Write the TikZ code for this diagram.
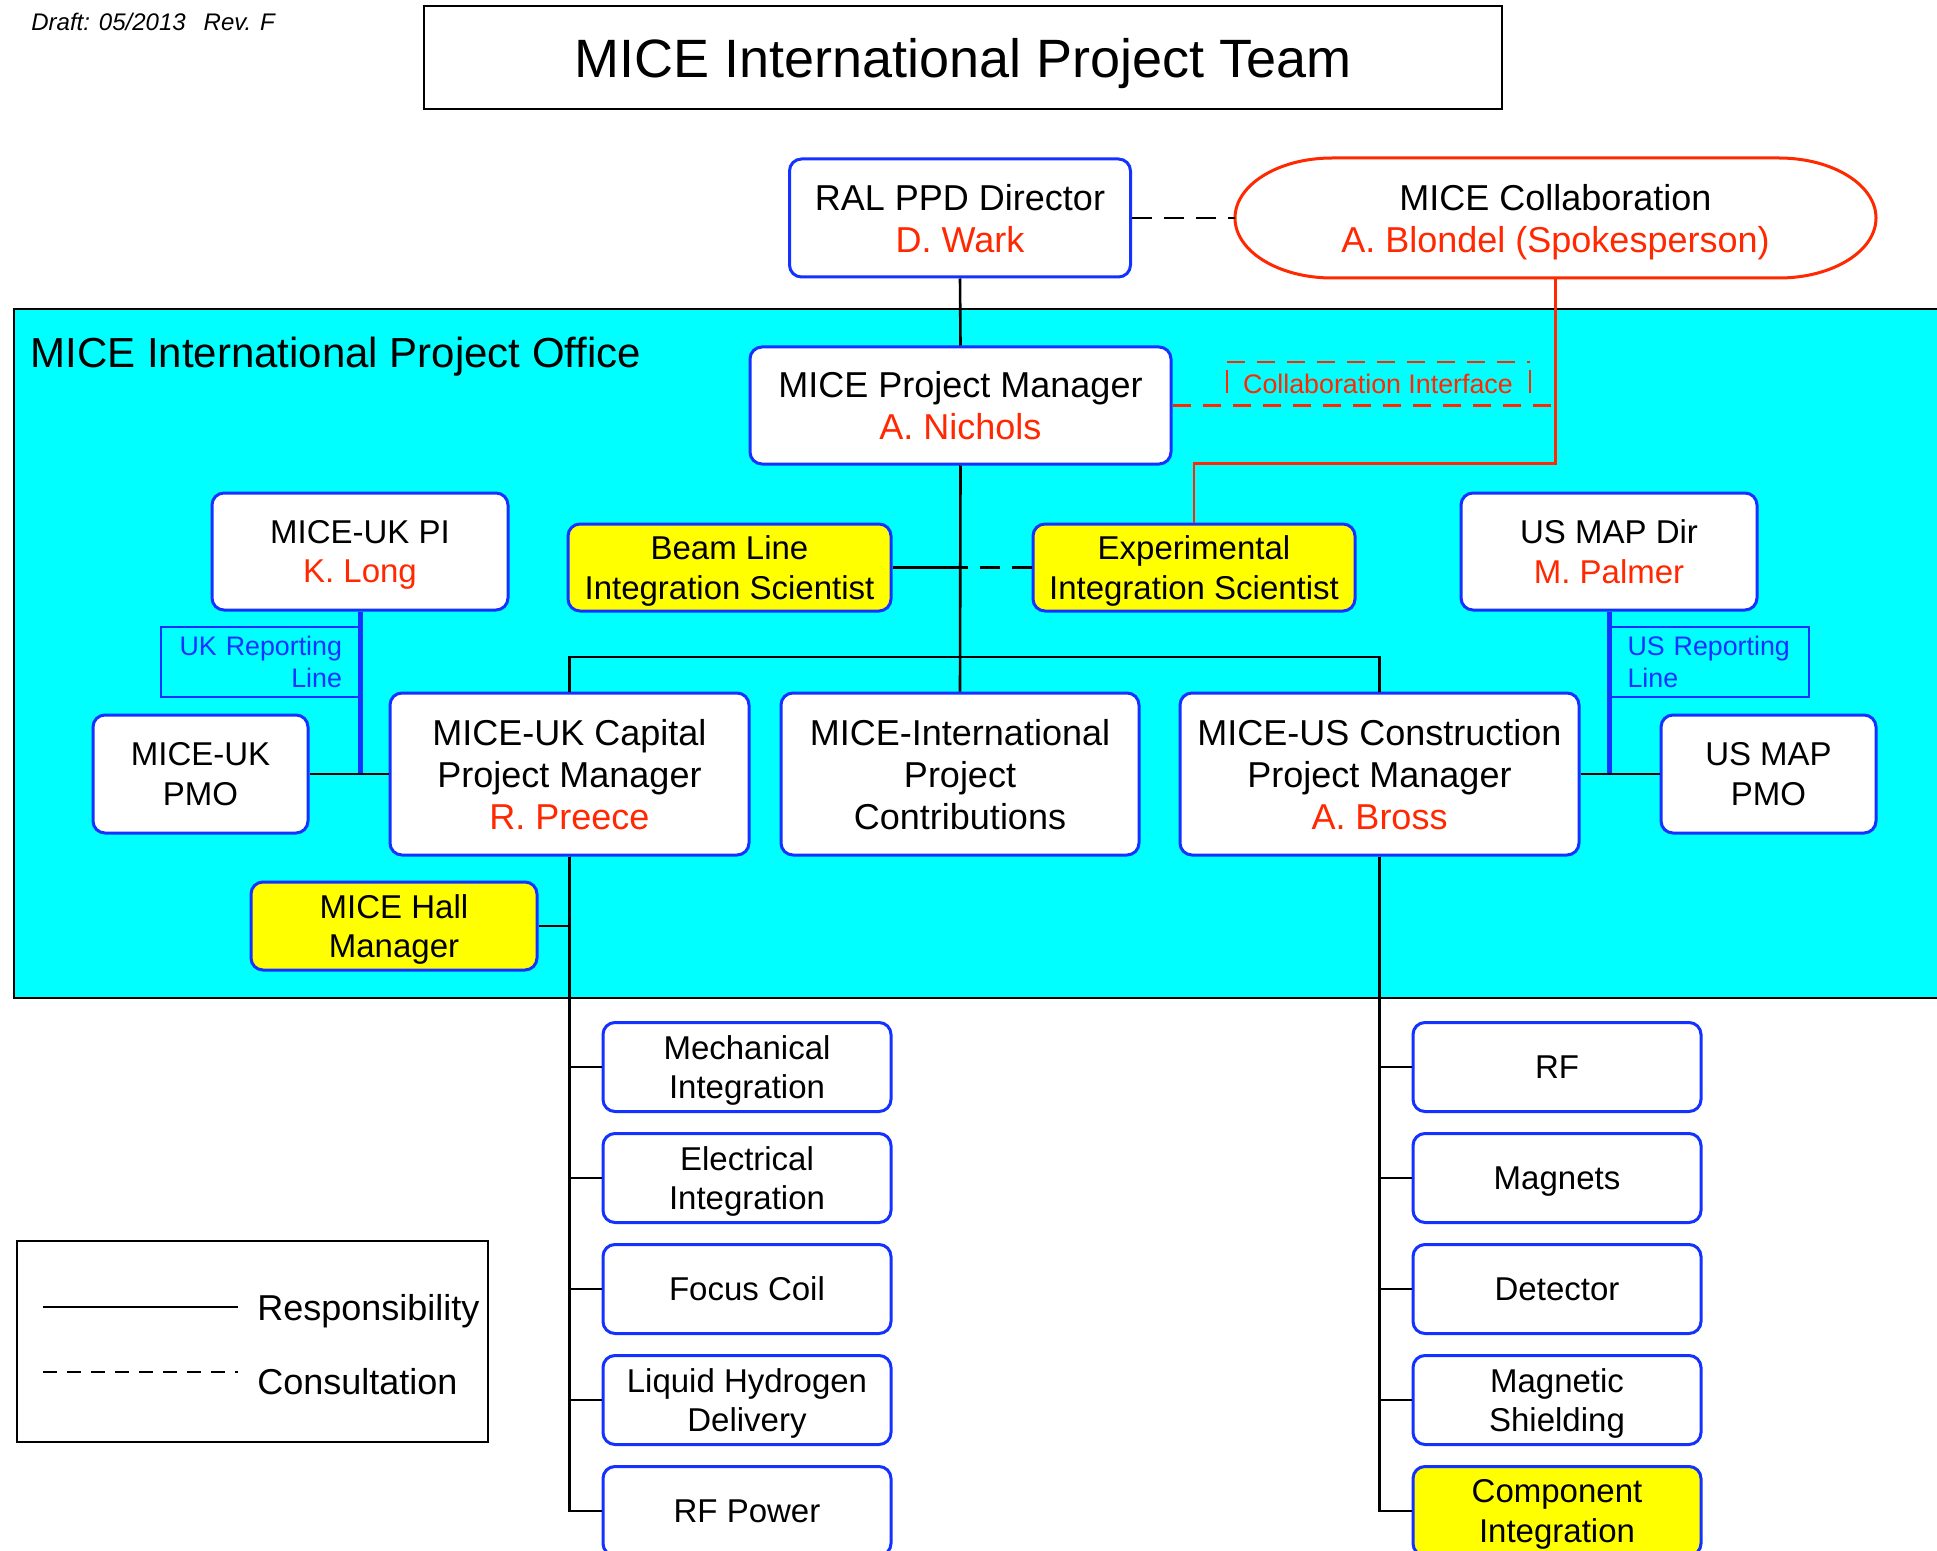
\documentclass[tikz,border=0pt]{standalone}
\usepackage{fontspec}
\setmainfont{Liberation Sans}
\usepackage{tikz}
\usetikzlibrary{calc}
\definecolor{miceblue}{RGB}{20,50,255}
\definecolor{micered}{RGB}{255,40,0}
\definecolor{micecyan}{RGB}{0,255,255}
\definecolor{miceyellow}{RGB}{255,255,0}
\tikzstyle{box}=[rectangle, rounded corners=6pt, draw=miceblue, line width=1.5pt, fill=white, align=center, inner sep=0pt, text depth=0pt, font=\fontsize{18}{21}\selectfont]
\tikzstyle{small}=[font=\fontsize{16.5}{19.8}\selectfont]
\tikzstyle{link}=[black, line width=1.3pt]
\pgfdeclarelayer{bg}
\pgfsetlayers{bg,main}
\newcommand{\who}[1]{\textcolor{micered}{#1}}

\begin{document}
\begin{tikzpicture}[x=0.5pt, y=-0.5pt,
    hl/.style={box, small, fill=miceyellow},
    sub/.style={box, small, minimum width=144pt, minimum height=44.5pt},
    pmo/.style={box, small, minimum width=107.5pt, minimum height=59pt},
    repline/.style={draw=miceblue, line width=1pt, text=miceblue, text width=81.5pt, inner xsep=9pt, inner ysep=0pt, minimum height=35pt, font=\fontsize{13.4}{16}\selectfont},
    consult/.style={link, dash pattern=on 10pt off 6pt}]
  \useasboundingbox (0,0) rectangle (1937,1551);
  \clip (0,0) rectangle (1937,1551);
  \begin{pgfonlayer}{bg}
    \fill[white] (0,0) rectangle (1937,1551);
    \draw[line width=1.2pt, fill=micecyan] (14,309) rectangle (1960,998);
    \draw[micered, line width=1.5pt, fill=white] (1332,158) -- (1779,158)
      arc[start angle=90, end angle=-90, x radius=48.5pt, y radius=30pt] -- (1332,278)
      arc[start angle=270, end angle=90, x radius=48.5pt, y radius=30pt] -- cycle;
  \end{pgfonlayer}

  \node[anchor=west, inner sep=0pt, font=\itshape\fontsize{12}{14}\selectfont] (draft) at (31,22) {Draft: 05/2013\hspace{9pt}Rev. F};
  \node[draw, line width=1.2pt, minimum width=539pt, minimum height=51.5pt, inner sep=0pt, text depth=0pt, font=\fontsize{27}{30}\selectfont] (title) at (963,57.5) {MICE International Project Team};
  \node[anchor=west, inner sep=0pt, text depth=0pt, font=\fontsize{21}{25}\selectfont] (office) at (30,352) {MICE International Project Office};

  \node[box, minimum width=170.5pt, minimum height=59pt] (ral) at (960,218) {RAL PPD Director\\\who{D. Wark}};
  \node[align=center, inner sep=0pt, text depth=0pt, minimum width=320.5pt, minimum height=60pt, font=\fontsize{18}{21}\selectfont] (collab) at (1555.5,218) {MICE Collaboration\\\who{A. Blondel (Spokesperson)}};
  \node[box, minimum width=210.5pt, minimum height=58.5pt] (pm) at (960.5,405.5) {MICE Project Manager\\\who{A. Nichols}};
  \node[text=micered, inner sep=0pt, font=\fontsize{13.4}{16}\selectfont] (ci) at (1378,384) {Collaboration Interface};

  \node[box, small, minimum width=148pt, minimum height=58.5pt] (ukpi) at (360,551.5) {MICE-UK PI\\\who{K. Long}};
  \node[hl, minimum width=161.5pt, minimum height=43.5pt] (beam) at (729.5,567.5) {Beam Line\\Integration Scientist};
  \node[hl, minimum width=161pt, minimum height=43.5pt] (exp) at (1194,567.5) {Experimental\\Integration Scientist};
  \node[box, small, minimum width=148pt, minimum height=58.5pt] (usdir) at (1609,551.5) {US MAP Dir\\\who{M. Palmer}};

  \node[repline, align=right] (ukrep) at (260.5,662) {UK Reporting\\Line};
  \node[repline, align=left] (usrep) at (1709,662) {US Reporting\\Line};

  \node[box, minimum width=179.5pt, minimum height=81pt] (ukcap) at (569.5,774) {MICE-UK Capital\\Project Manager\\\who{R. Preece}};
  \node[box, minimum width=179pt, minimum height=81pt] (contrib) at (960,774) {MICE-International\\Project\\Contributions};
  \node[box, minimum width=199.5pt, minimum height=81pt] (uscons) at (1379.5,774) {MICE-US Construction\\Project Manager\\\who{A. Bross}};
  \node[pmo] (ukpmo) at (200.5,774) {MICE-UK\\PMO};
  \node[pmo] (uspmo) at (1768.5,774) {US MAP\\PMO};
  \node[hl, minimum width=143pt, minimum height=44pt] (hall) at (394,926) {MICE Hall\\Manager};

  \draw[consult] (ral.east) -- (collab.west);
  \draw[link] (ral.south) -- (pm.north);
  \draw[link] (pm.south) -- (contrib.north);
  \coordinate (bar) at (960,657);
  \draw[link] (ukcap.north) |- (bar) -| (uscons.north);
  \draw[link] (beam.east) -- (beam.east -| pm.south);
  \draw[consult] (exp.west) -- (exp.west -| pm.south);
  \draw[micered, line width=1.3pt] (collab.south) -- ++(0,185) -| (exp.north);
  \draw[micered, line width=1.3pt, dash pattern=on 9pt off 6pt] (pm.east) -- (pm.east -| collab.south);
  \draw[micered, line width=1.3pt, dash pattern=on 9pt off 6pt] (1227,362) -- (1530,362);
  \draw[micered, line width=1.3pt] (1227,370) -- (1227,393) (1530,370) -- (1530,393);

  \draw[miceblue, line width=2.5pt] (ukpi.south) -- (ukpi.south |- ukcap.west);
  \draw[link] (ukpmo.east) -- (ukcap.west);
  \draw[miceblue, line width=2.5pt] (usdir.south) -- (usdir.south |- uscons.east);
  \draw[link] (uscons.east) -- (uspmo.west);
  \draw[link] (hall.east) -- (hall.east -| ukcap.south);

  \foreach \name [count=\i] in {{Mechanical\\Integration}, {Electrical\\Integration}, {Focus Coil}, {Liquid Hydrogen\\Delivery}, {RF Power}}{
    \node[sub] (uksub\i) at (747,956+111*\i) {\name};
    \draw[link] (ukcap.south) |- (uksub\i.west);
  }
  \foreach \name/\shade [count=\i] in {RF/white, Magnets/white, Detector/white, {Magnetic\\Shielding}/white, {Component\\Integration}/miceyellow}{
    \node[sub, fill=\shade] (ussub\i) at (1557,956+111*\i) {\name};
    \draw[link] (uscons.south) |- (ussub\i.west);
  }

  \node[draw, line width=1.2pt, minimum width=235.5pt, minimum height=100.5pt] (legend) at (252.5,1341.5) {};
  \coordinate (respA) at (43,1307);
  \coordinate (respB) at (238,1307);
  \coordinate (consA) at (43,1372);
  \coordinate (consB) at (238,1372);
  \draw[link] (respA) -- (respB);
  \draw[link, dash pattern=on 7pt off 5pt] (consA) -- (consB);
  \node[anchor=west, inner sep=0pt, text depth=0pt, font=\fontsize{18}{21}\selectfont] (resp) at (257,1307) {Responsibility};
  \node[anchor=west, inner sep=0pt, text depth=0pt, font=\fontsize{18}{21}\selectfont] (cons) at (257,1381) {Consultation};
\end{tikzpicture}
\end{document}
